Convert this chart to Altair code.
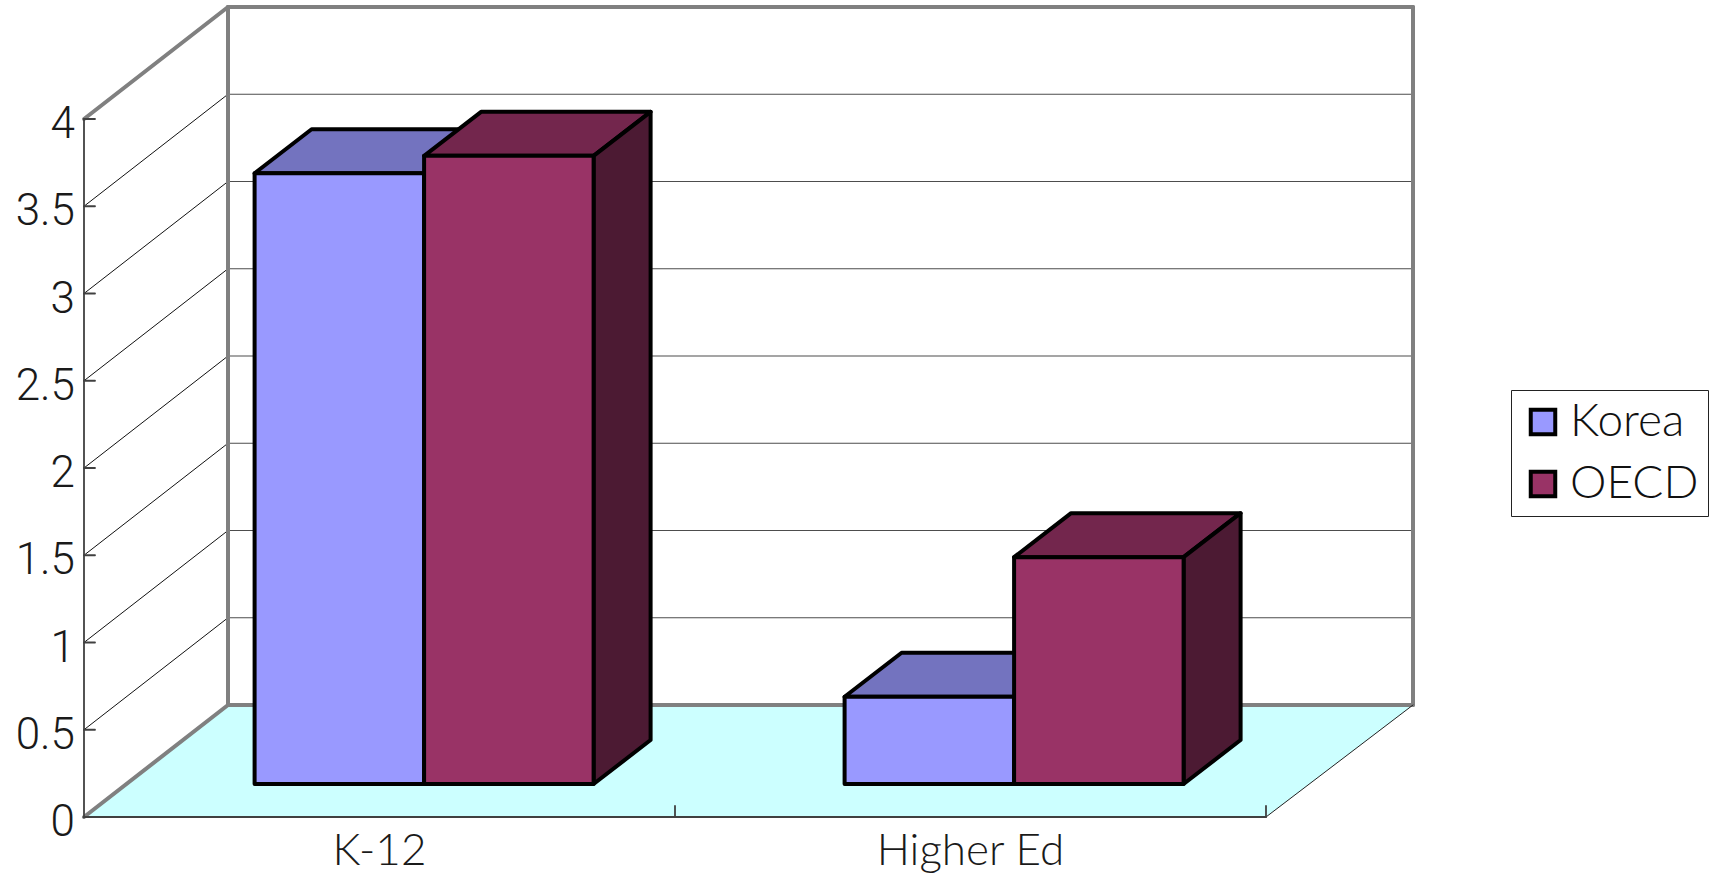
import altair as alt
import pandas as pd

# Spending values per category and series
categories = ["K-12", "Higher Ed"]
series_names = ["Korea", "OECD"]
korea_values = [3.5, 0.5]
oecd_values = [3.6, 1.3]
value_ticks = [0, 0.5, 1, 1.5, 2, 2.5, 3, 3.5, 4]

front_colors = ["#9999FF", "#993366"]
top_colors = ["#7373BF", "#73264D"]
side_colors = ["#4C4C80", "#4C1A33"]

# Oblique projection: one category is 591 px wide, one value unit 174.5 px tall
X_UNIT, Y_UNIT = 591.0, 174.5
WALL_DX, WALL_DY = 144 / X_UNIT, 112 / Y_UNIT
WALL_RIGHT = 2 + 147 / X_UNIT
BAR_OX, BAR_OY = 42 / X_UNIT, 33 / Y_UNIT
BAR_DX, BAR_DY = 57 / X_UNIT, 44 / Y_UNIT
BAR_W = 169.5 / X_UNIT
BAR_GAP = 128.6 / X_UNIT
BAR_STEP = 590 / X_UNIT

PLOT_W, PLOT_H = 1329, 817
x_scale = alt.Scale(domain=[0, PLOT_W / X_UNIT], range=[0, PLOT_W], nice=False, zero=False)
y_scale = alt.Scale(domain=[0, PLOT_H / Y_UNIT], range=[PLOT_H, 0], nice=False, zero=False)
n_cat = len(categories)
max_val = max(value_ticks)

X = lambda **kw: alt.X("x:Q", scale=x_scale, axis=None, **kw)
Y = lambda **kw: alt.Y("y:Q", scale=y_scale, axis=None, stack=None, **kw)


def rule_layer(rows, color, width):
    df = pd.DataFrame(rows, columns=["x", "x2", "y", "y2"])
    return alt.Chart(df).mark_rule(color=color, strokeWidth=width, strokeCap="round").encode(
        x=X(), x2="x2:Q", y=Y(), y2="y2:Q"
    )


# Floor of the chart box
floor_df = pd.DataFrame(
    [
        {"y": 0, "x": 0, "x2": n_cat},
        {"y": WALL_DY, "x": WALL_DX, "x2": WALL_RIGHT},
    ]
)
floor = alt.Chart(floor_df).mark_area(orient="horizontal", color="#CCFFFF").encode(
    x=X(), x2="x2:Q", y=Y()
)

back_grid = rule_layer(
    [[WALL_DX, WALL_RIGHT, v + WALL_DY, v + WALL_DY] for v in value_ticks if 0 < v < max_val],
    "#4d4d4d",
    1.2,
)
side_grid = rule_layer(
    [[0, WALL_DX, v, v + WALL_DY] for v in value_ticks if 0 < v < max_val], "#111111", 1
)
frame = rule_layer(
    [
        [WALL_DX, WALL_RIGHT, max_val + WALL_DY, max_val + WALL_DY],
        [WALL_DX, WALL_RIGHT, WALL_DY, WALL_DY],
        [WALL_DX, WALL_DX, WALL_DY, max_val + WALL_DY],
        [WALL_RIGHT, WALL_RIGHT, WALL_DY, max_val + WALL_DY],
        [0, WALL_DX, 0, WALL_DY],
        [0, WALL_DX, max_val, max_val + WALL_DY],
    ],
    "#808080",
    4,
)
floor_edge = rule_layer([[n_cat, WALL_RIGHT, 0, WALL_DY]], "#222222", 1)
front_axes = rule_layer(
    [[0, 0, 0, max_val], [0, n_cat, 0, 0]]
    + [[0, 11 / X_UNIT, v, v] for v in value_ticks]
    + [[c, c, 0, 11 / Y_UNIT] for c in range(1, n_cat + 1)],
    "#404040",
    1.8,
)

# Tick and category labels
value_label_df = pd.DataFrame({"x": 0.0, "y": value_ticks, "label": [f"{v:g}" for v in value_ticks]})
value_labels = alt.Chart(value_label_df).mark_text(
    align="right", baseline="middle", dx=-9, dy=6,
    font="Roboto", fontWeight=300, fontSize=44, color="#1a1a1a",
).encode(x=X(), y=Y(), text="label:N")

cat_label_df = pd.DataFrame(
    {"x": [i + 0.5 for i in range(n_cat)], "y": 0.0, "label": categories}
)
cat_labels = alt.Chart(cat_label_df).mark_text(
    align="center", baseline="middle", dy=35,
    font="Lato", fontWeight=300, fontSize=44, color="#1a1a1a",
).encode(x=X(), y=Y(), text="label:N")

# Each bar is painted back to front: top face, side face, front face
bar_layers = []
for s, (name, values) in enumerate(zip(series_names, [korea_values, oecd_values])):
    top_rows, side_rows, front_rows = [], [], []
    for i, v in enumerate(values):
        x0 = i * BAR_STEP + BAR_GAP + BAR_OX + s * BAR_W
        x1 = x0 + BAR_W
        base = BAR_OY
        top = base + v
        top_rows += [
            {"id": i, "y": top, "x": x0, "x2": x1},
            {"id": i, "y": top + BAR_DY, "x": x0 + BAR_DX, "x2": x1 + BAR_DX},
        ]
        side_rows += [
            {"id": i, "x": x1, "y": base, "y2": top},
            {"id": i, "x": x1 + BAR_DX, "y": base + BAR_DY, "y2": top + BAR_DY},
        ]
        front_rows.append({"series": name, "x": x0, "x2": x1, "y": base, "y2": top})
    bar_layers.append(
        alt.Chart(pd.DataFrame(top_rows))
        .mark_area(orient="horizontal", fill=top_colors[s], stroke="black", strokeWidth=4, strokeJoin="round")
        .encode(x=X(), x2="x2:Q", y=Y(), detail="id:N")
    )
    bar_layers.append(
        alt.Chart(pd.DataFrame(side_rows))
        .mark_area(orient="vertical", fill=side_colors[s], stroke="black", strokeWidth=4, strokeJoin="round")
        .encode(x=X(), y=Y(), y2="y2:Q", detail="id:N")
    )
    bar_layers.append(
        alt.Chart(pd.DataFrame(front_rows))
        .mark_rect(stroke="black", strokeWidth=4, strokeJoin="round")
        .encode(
            x=X(),
            x2="x2:Q",
            y=Y(),
            y2="y2:Q",
            fill=alt.Fill(
                "series:N",
                scale=alt.Scale(domain=series_names, range=front_colors),
                legend=alt.Legend(
                    title=None,
                    orient="none",
                    legendX=1427,
                    legendY=390,
                    symbolType="square",
                    symbolSize=600,
                    symbolStrokeColor="black",
                    symbolStrokeWidth=4,
                    symbolOpacity=1,
                    labelFont="Lato",
                    labelFontWeight=300,
                    labelFontSize=46,
                    labelColor="#111111",
                    labelLimit=220,
                    strokeColor="#222222",
                    fillColor="white",
                    padding=9,
                    rowPadding=16,
                    labelOffset=4,
                ),
            ),
        )
    )

chart = (
    alt.layer(floor, back_grid, side_grid, frame, floor_edge, front_axes, value_labels, cat_labels, *bar_layers)
    .properties(
        width=PLOT_W,
        height=PLOT_H,
        background="white",
        padding={"left": 84, "top": 0, "right": 300, "bottom": 63},
        autosize=alt.AutoSizeParams(type="none"),
    )
    .configure_view(stroke=None)
)

chart.save("out.html", embed_options={"renderer": "svg", "actions": False})
